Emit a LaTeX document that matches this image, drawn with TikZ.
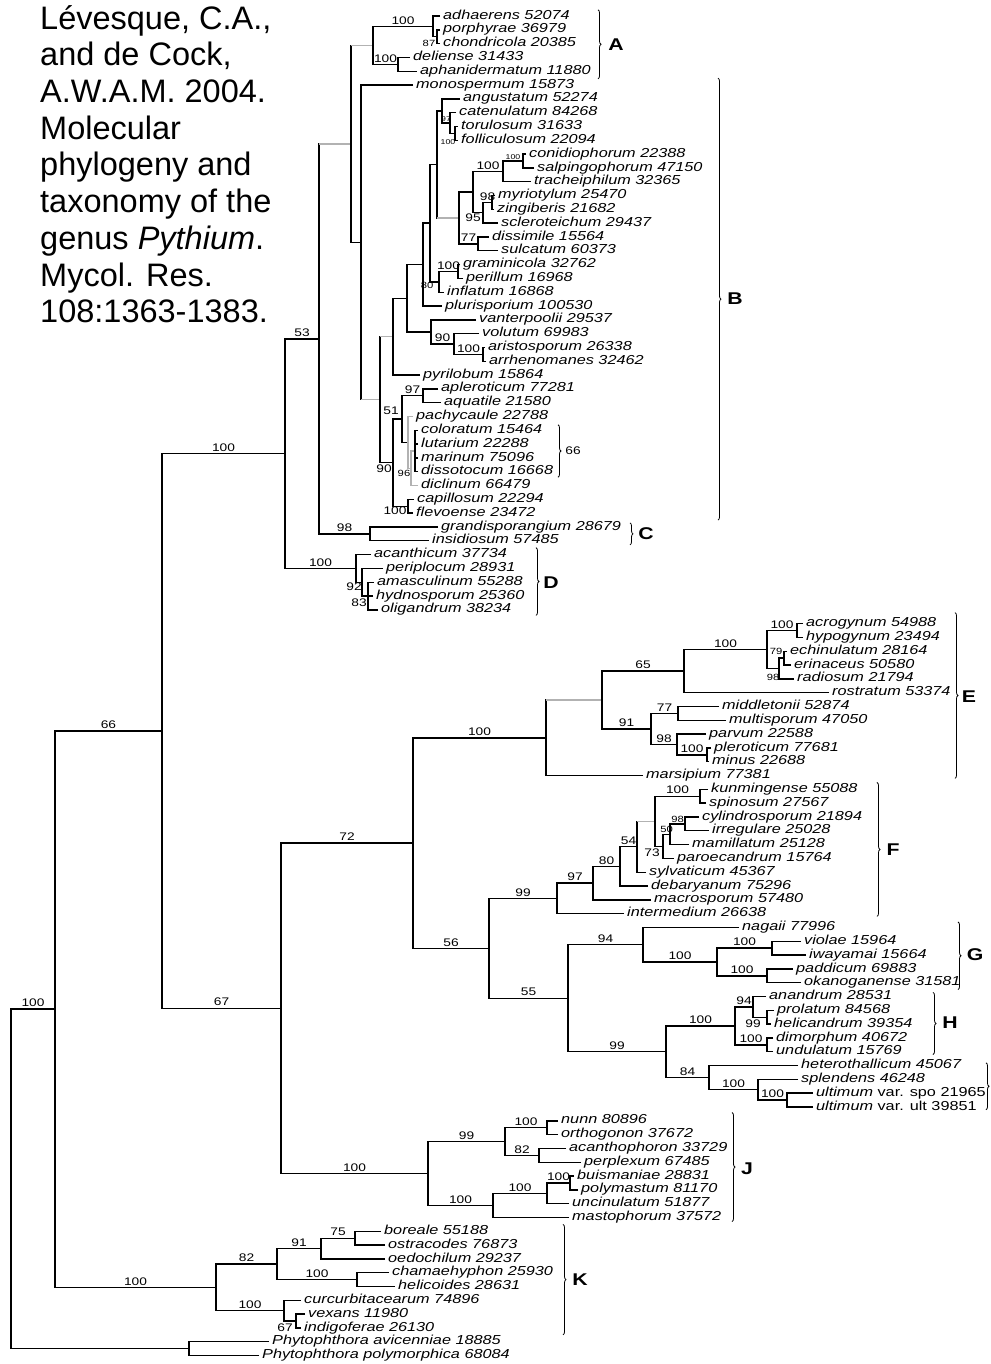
\documentclass[tikz,border=0pt]{standalone}
\usepackage{fontspec}
\setmainfont{Liberation Sans}
\newfontfamily\treefont[FakeStretch=1.25]{Liberation Sans}
\usetikzlibrary{decorations.pathreplacing}

\begin{document}
\begin{tikzpicture}[
  x=1pt, y=-13.81pt,
  br/.style={line width=1.4pt},
  gb/.style={line width=1.4pt,draw=black!30},
  leaf/.style={anchor=west,inner xsep=3pt,inner ysep=0pt,text height=8.8pt,text depth=2.6pt,
               font=\treefont\itshape\fontsize{13}{14}\selectfont},
  bs/.style={inner sep=1.5pt,font=\treefont\fontsize{11}{12}\selectfont},
  bss/.style={inner sep=1pt,font=\treefont\fontsize{9}{10}\selectfont},
  bsss/.style={inner sep=.5pt,font=\treefont\fontsize{7}{8}\selectfont},
  grp/.style={font=\treefont\bfseries\fontsize{17}{20}\selectfont},
  clbrace/.style={decorate,decoration={brace,amplitude=3pt},line width=.8pt},
  cite/.style={anchor=north west,inner sep=0pt,align=left,font=\fontsize{32.5}{36.7}\selectfont},
]
\useasboundingbox (0pt,16pt) rectangle (990pt,-1348pt);
\fill[white] (0pt,16pt) rectangle (990pt,-1348pt);

% Reference
\node[cite] (cite) at (40pt,11pt)
  {L\'evesque, C.A.,\\and de Cock,\\A.W.A.M. 2004.\\Molecular\\phylogeny and\\taxonomy of the\\genus \textit{Pythium}.\\Mycol. Res.\\108:1363-1383.};

% Backbone
\coordinate (nR)    at (11,84.208);
\coordinate (nIn)   at (55,71.916);
\coordinate (n66)   at (162,51.770);
\coordinate (ncore) at (285,31.689);
\coordinate (n67)   at (281,71.850);
\coordinate (n72)   at (413,59.888);
\coordinate (n56)   at (489,67.510);
\coordinate (n53)   at (319,23.379);
\coordinate (nAB)   at (351,9.258);

% Clade A
\coordinate (nA)  at (373,2.125);
\coordinate (nA1) at (433,0.75);
\coordinate (n87) at (437,1.5);
\coordinate (nA2) at (398,3.5);
\node[leaf] (adh) at (440,0) {adhaerens 52074};
\node[leaf] (por) at (440,1) {porphyrae 36979};
\node[leaf] (cho) at (440,2) {chondricola 20385};
\node[leaf] (del) at (410,3) {deliense 31433};
\node[leaf] (aph) at (417,4) {aphanidermatum 11880};

% Clade B
\coordinate (nB)     at (361,16.391);
\coordinate (n380)   at (380,27.781);
\coordinate (n392)   at (393,23.219);
\coordinate (n407)   at (407,20.438);
\coordinate (n423)   at (423,18);
\coordinate (n430)   at (430,15);
\coordinate (n437)   at (437,10.75);
\coordinate (nang)   at (442,6.875);
\coordinate (n97c)   at (450,7.75);
\coordinate (n100t)  at (455,8.5);
\coordinate (nq)     at (459,14.625);
\coordinate (nq1)    at (473,12.75);
\coordinate (n100tr) at (503,11.25);
\coordinate (n100c)  at (523,10.5);
\coordinate (n95)    at (483,14.25);
\coordinate (n98m)   at (492,13.5);
\coordinate (n77d)   at (478,16.5);
\coordinate (n80)    at (439,19.25);
\coordinate (n100g)  at (458,18.5);
\coordinate (n431)   at (431,22.875);
\coordinate (n90v)   at (454,23.75);
\coordinate (n100a)  at (483,24.5);
\coordinate (n90)    at (393,32.344);
\coordinate (n51)    at (402,29.188);
\coordinate (n97a)   at (423,27.5);
\coordinate (npac)   at (408,30.875);
\coordinate (n96)    at (411,32.75);
\coordinate (nc66)   at (415,31.5);
\coordinate (n100cf) at (408,35.5);
\node[leaf] (mon) at (413,5) {monospermum 15873};
\node[leaf] (ang) at (460,6) {angustatum 52274};
\node[leaf] (cat) at (456,7) {catenulatum 84268};
\node[leaf] (tor) at (458,8) {torulosum 31633};
\node[leaf] (fol) at (458,9) {folliculosum 22094};
\node[leaf] (con) at (526,10) {conidiophorum 22388};
\node[leaf] (sal) at (534,11) {salpingophorum 47150};
\node[leaf] (tra) at (531,12) {tracheiphilum 32365};
\node[leaf] (myr) at (495,13) {myriotylum 25470};
\node[leaf] (zin) at (494,14) {zingiberis 21682};
\node[leaf] (scl) at (498,15) {scleroteichum 29437};
\node[leaf] (dis) at (489,16) {dissimile 15564};
\node[leaf] (sul) at (498,17) {sulcatum 60373};
\node[leaf] (gra) at (460,18) {graminicola 32762};
\node[leaf] (per) at (463,19) {perillum 16968};
\node[leaf] (inf) at (444,20) {inflatum 16868};
\node[leaf] (plu) at (442,21) {plurisporium 100530};
\node[leaf] (van) at (476,22) {vanterpoolii 29537};
\node[leaf] (vol) at (479,23) {volutum 69983};
\node[leaf] (ari) at (485,24) {aristosporum 26338};
\node[leaf] (arr) at (486,25) {arrhenomanes 32462};
\node[leaf] (pyr) at (420,26) {pyrilobum 15864};
\node[leaf] (apl) at (438,27) {apleroticum 77281};
\node[leaf] (aqu) at (441,28) {aquatile 21580};
\node[leaf] (pac) at (413,29) {pachycaule 22788};
\node[leaf] (col) at (418,30) {coloratum 15464};
\node[leaf] (lut) at (418,31) {lutarium 22288};
\node[leaf] (mar) at (418,32) {marinum 75096};
\node[leaf] (dso) at (418,33) {dissotocum 16668};
\node[leaf] (dic) at (418,34) {diclinum 66479};
\node[leaf] (cap) at (414,35) {capillosum 22294};
\node[leaf] (fle) at (413,36) {flevoense 23472};

% Clades C and D
\coordinate (nC)  at (370,37.5);
\coordinate (nD)  at (356,40);
\coordinate (n92) at (362,41);
\coordinate (n83) at (368,42);
\node[leaf] (grd) at (438,37) {grandisporangium 28679};
\node[leaf] (ins) at (429,38) {insidiosum 57485};
\node[leaf] (aca) at (371,39) {acanthicum 37734};
\node[leaf] (pep) at (383,40) {periplocum 28931};
\node[leaf] (ama) at (374,41) {amasculinum 55288};
\node[leaf] (hyd) at (373,42) {hydnosporum 25360};
\node[leaf] (oli) at (378,43) {oligandrum 38234};

% Clade E
\coordinate (nE)     at (546,52.266);
\coordinate (n65)    at (602,49.531);
\coordinate (n100e2) at (684,47.438);
\coordinate (n767)   at (767,45.875);
\coordinate (n100h)  at (797,44.5);
\coordinate (n98r)   at (779,47.25);
\coordinate (n79)    at (784,46.5);
\coordinate (n91)    at (651,51.625);
\coordinate (n77m)   at (678,50.5);
\coordinate (n98p)   at (677,52.75);
\coordinate (n100p)  at (707,53.5);
\node[leaf] (acr) at (803,44) {acrogynum 54988};
\node[leaf] (hyp) at (803,45) {hypogynum 23494};
\node[leaf] (ech) at (787,46) {echinulatum 28164};
\node[leaf] (eri) at (791,47) {erinaceus 50580};
\node[leaf] (rad) at (794,48) {radiosum 21794};
\node[leaf] (ros) at (829,49) {rostratum 53374};
\node[leaf] (mid) at (719,50) {middletonii 52874};
\node[leaf] (mul) at (726,51) {multisporum 47050};
\node[leaf] (par) at (706,52) {parvum 22588};
\node[leaf] (ple) at (711,53) {pleroticum 77681};
\node[leaf] (min) at (709,54) {minus 22688};
\node[leaf] (mrs) at (643,55) {marsipium 77381};

% Clade F
\coordinate (nF)    at (557,63.895);
\coordinate (n80f)  at (593,62.789);
\coordinate (n54)   at (620,61.578);
\coordinate (n637)  at (637,60.156);
\coordinate (n655)  at (655,58.313);
\coordinate (n100k) at (700,56.5);
\coordinate (n73)   at (663,60.125);
\coordinate (n50)   at (670,59.25);
\coordinate (n98c)  at (685,58.5);
\node[leaf] (kun) at (708,56) {kunmingense 55088};
\node[leaf] (spi) at (706,57) {spinosum 27567};
\node[leaf] (cyl) at (699,58) {cylindrosporum 21894};
\node[leaf] (irr) at (709,59) {irregulare 25028};
\node[leaf] (mam) at (689,60) {mamillatum 25128};
\node[leaf] (pao) at (674,61) {paroecandrum 15764};
\node[leaf] (syl) at (646,62) {sylvaticum 45367};
\node[leaf] (deb) at (648,63) {debaryanum 75296};
\node[leaf] (mac) at (651,64) {macrosporum 57480};
\node[leaf] (itm) at (624,65) {intermedium 26638};

% Clades G, H
\coordinate (n55)    at (568,71.125);
\coordinate (nG)     at (643,67.25);
\coordinate (n100G)  at (717,68.5);
\coordinate (n100vi) at (772,67.5);
\coordinate (n100pa) at (767,69.5);
\coordinate (n99)    at (666,75);
\coordinate (nH)     at (735,73.125);
\coordinate (n94h)   at (753,71.75);
\coordinate (n99h)   at (767,72.5);
\coordinate (n100dm) at (767,74.5);
\coordinate (n84)    at (709,76.875);
\coordinate (n100s)  at (758,77.75);
\coordinate (n100u)  at (787,78.5);
\node[leaf] (nag) at (739,66) {nagaii 77996};
\node[leaf] (vio) at (801,67) {violae 15964};
\node[leaf] (iwa) at (806,68) {iwayamai 15664};
\node[leaf] (pad) at (793,69) {paddicum 69883};
\node[leaf] (oka) at (801,70) {okanoganense 31581};
\node[leaf] (ana) at (766,71) {anandrum 28531};
\node[leaf] (pro) at (774,72) {prolatum 84568};
\node[leaf] (hel) at (771,73) {helicandrum 39354};
\node[leaf] (dim) at (773,74) {dimorphum 40672};
\node[leaf] (und) at (773,75) {undulatum 15769};
\node[leaf] (het) at (798,76) {heterothallicum 45067};
\node[leaf] (spl) at (798,77) {splendens 46248};
\node[leaf] (ult1) at (813,78) {ultimum \upshape var. spo 21965};
\node[leaf] (ult2) at (813,79) {ultimum \upshape var. ult 39851};

% Clade J
\coordinate (nJ)     at (428,83.813);
\coordinate (n99j)   at (505,81.5);
\coordinate (n100n)  at (547,80.5);
\coordinate (n82j)   at (539,82.5);
\coordinate (n100j2) at (493,86.125);
\coordinate (n100b2) at (547,85.25);
\coordinate (n100bp) at (570,84.5);
\node[leaf] (nun) at (558,80) {nunn 80896};
\node[leaf] (ort) at (558,81) {orthogonon 37672};
\node[leaf] (acp) at (566,82) {acanthophoron 33729};
\node[leaf] (ppx) at (581,83) {perplexum 67485};
\node[leaf] (bui) at (574,84) {buismaniae 28831};
\node[leaf] (pol) at (578,85) {polymastum 81170};
\node[leaf] (unc) at (569,86) {uncinulatum 51877};
\node[leaf] (mas) at (569,87) {mastophorum 37572};

% Clade K and outgroup
\coordinate (nK)     at (216,92.063);
\coordinate (n82k)   at (277,90.375);
\coordinate (n91k)   at (321,89.25);
\coordinate (n75)    at (355,88.5);
\coordinate (n100ch) at (357,91.5);
\coordinate (n100kk) at (284,93.75);
\coordinate (n67k)   at (296,94.5);
\coordinate (nPh)    at (189,96.5);
\node[leaf] (bor) at (381,88) {boreale 55188};
\node[leaf] (ost) at (385,89) {ostracodes 76873};
\node[leaf] (oed) at (385,90) {oedochilum 29237};
\node[leaf] (cha) at (389,91) {chamaehyphon 25930};
\node[leaf] (hcl) at (395,92) {helicoides 28631};
\node[leaf] (cur) at (301,93) {curcurbitacearum 74896};
\node[leaf] (vex) at (305,94) {vexans 11980};
\node[leaf] (ind) at (301,95) {indigoferae 26130};
\node[leaf] (pav) at (269,96) {Phytophthora avicenniae 18885};
\node[leaf] (ppo) at (259,97) {Phytophthora polymorphica 68084};

% Branches: backbone
\draw[br] (nIn) -| (nR) node[bs,pos=.25,above] (b-in) {100} (nPh) -| (nR);
\draw[br] (n66) -| (nIn) node[bs,pos=.25,above] (b-66) {66}
          (nK) -| (nIn) node[bs,pos=.25,above] (b-k) {100};
\draw[br] (ncore) -| (n66) node[bs,pos=.25,above] (b-core) {100}
          (n67) -| (n66) node[bs,pos=.25,above] (b-67) {67};
\draw[br] (n72) -| (n67) node[bs,pos=.25,above] (b-72) {72}
          (nJ) -| (n67) node[bs,pos=.25,above] (b-j) {100};
\draw[br] (nE) -| (n72) node[bs,pos=.25,above] (b-e) {100}
          (n56) -| (n72) node[bs,pos=.25,above] (b-56) {56};
\draw[br] (nF) -| (n56) node[bs,pos=.25,above] (b-f) {99}
          (n55) -| (n56) node[bs,pos=.25,above] (b-55) {55};
\draw[br] (n53) -| (ncore) node[bs,pos=.25,above] (b-53) {53}
          (nD) -| (ncore) node[bs,pos=.25,above] (b-d) {100};
\draw[br] (nAB) -| (n53) (nC) -| (n53) node[bs,pos=.25,above] (b-c) {98};
\draw[gb] (nAB) -- (nAB -| n53);
\draw[br] (nA) -| (nAB) (nB) -| (nAB);
\draw[gb] (nA) -- (nA -| nAB);

% Branches: A
\draw[br] (nA1) -| (nA) node[bs,pos=.25,above] (b-a1) {100}
          (nA2) -| (nA) node[bs,pos=.25,above] (b-a2) {100};
\draw[br] (adh.west) -| (nA1) (n87) -| (nA1);
\draw[br] (por.west) -| (n87) (cho.west) -| (n87);
\draw[br] (del.west) -| (nA2) (aph.west) -| (nA2);
\node[bss] (b-87) at (429,2) {87};

% Branches: B
\draw[br] (mon.west) -| (nB) (n380) -| (nB);
\draw[gb] (n380) -- (n380 -| nB);
\draw[br] (n392) -| (n380) (n90) -| (n380);
\draw[gb] (n392) -- (n392 -| n380);
\draw[br] (n407) -| (n392) (pyr.west) -| (n392);
\draw[br] (n423) -| (n407) (n431) -| (n407);
\draw[br] (n430) -| (n423) (plu.west) -| (n423);
\draw[br] (n437) -| (n430) (n80) -| (n430);
\draw[br] (nang) -| (n437) (nq) -| (n437);
\draw[gb] (nq) -- (nq -| n437);
\draw[br] (ang.west) -| (nang) (n97c) -| (nang) node[bsss,pos=.25,above] (b-97c) {97};
\draw[br] (cat.west) -| (n97c) (n100t) -| (n97c);
\draw[br] (tor.west) -| (n100t) (fol.west) -| (n100t);
\node[bsss] (b-100t) at (448,9.1) {100};
\draw[br] (nq1) -| (nq) (n77d) -| (nq) node[bs,pos=.25,above] (b-77d) {77};
\draw[br] (n100tr) -| (nq1) node[bs,pos=.25,above] (b-100tr) {100} (n95) -| (nq1);
\draw[br] (n100c) -| (n100tr) node[bsss,pos=.25,above] (b-100c) {100} (tra.west) -| (n100tr);
\draw[br] (con.west) -| (n100c) (sal.west) -| (n100c);
\draw[br] (n98m) -| (n95) node[bs,pos=.25,above] (b-98m) {98} (scl.west) -| (n95);
\draw[br] (myr.west) -| (n98m) (zin.west) -| (n98m);
\node[bs] (b-95) at (473,14.6) {95};
\draw[br] (dis.west) -| (n77d) (sul.west) -| (n77d);
\draw[br] (n100g) -| (n80) node[bs,pos=.25,above] (b-100g) {100} (inf.west) -| (n80);
\draw[br] (gra.west) -| (n100g) (per.west) -| (n100g);
\node[bss] (b-80) at (427,19.5) {80};
\draw[br] (van.west) -| (n431) (n90v) -| (n431) node[bs,pos=.25,above] (b-90v) {90};
\draw[br] (vol.west) -| (n90v) (n100a) -| (n90v) node[bs,pos=.25,above] (b-100a) {100};
\draw[br] (ari.west) -| (n100a) (arr.west) -| (n100a);
\draw[br] (n51) -| (n90) (n100cf) -| (n90);
\draw[br] (n97a) -| (n51) node[bs,pos=.25,above] (b-97a) {97} (npac) -| (n51);
\draw[br] (apl.west) -| (n97a) (aqu.west) -| (n97a);
\draw[gb] (pac.west) -| (npac) (n96) -| (npac);
\draw[gb] (nc66) -| (n96) (dic.west) -| (n96);
\draw[br] (col.west) -| (nc66) (lut.west) -| (nc66) (mar.west) -| (nc66) (dso.west) -| (nc66);
\draw[br] (cap.west) -| (n100cf) (fle.west) -| (n100cf);
\node[bs] (b-51) at (391,28.6) {51};
\node[bs] (b-90) at (384,32.8) {90};
\node[bss] (b-96) at (404,33.1) {96};
\node[bs] (b-100cf) at (395,35.8) {100};

% Branches: C, D
\draw[br] (grd.west) -| (nC) (ins.west) -| (nC);
\draw[br] (aca.west) -| (nD) (n92) -| (nD);
\draw[br] (pep.west) -| (n92) (n83) -| (n92);
\draw[br] (ama.west) -| (n83) (hyd.west) -| (n83) (oli.west) -| (n83);
\node[bs] (b-92) at (354,41.3) {92};
\node[bs] (b-83) at (359,42.5) {83};

% Branches: E
\draw[br] (n65) -| (nE) (mrs.west) -| (nE);
\draw[gb] (n65) -- (n65 -| nE);
\draw[br] (n100e2) -| (n65) node[bs,pos=.25,above] (b-65) {65}
          (n91) -| (n65) node[bs,pos=.25,above] (b-91) {91};
\draw[br] (n767) -| (n100e2) node[bs,pos=.25,above] (b-100e2) {100} (ros.west) -| (n100e2);
\draw[br] (n100h) -| (n767) node[bs,pos=.25,above] (b-100h) {100} (n98r) -| (n767);
\draw[br] (acr.west) -| (n100h) (hyp.west) -| (n100h);
\draw[br] (n79) -| (n98r) (rad.west) -| (n98r);
\draw[br] (ech.west) -| (n79) (eri.west) -| (n79);
\node[bss] (b-79) at (776,46.0) {79};
\node[bss] (b-98r) at (773,47.9) {98};
\draw[br] (n77m) -| (n91) node[bs,pos=.25,above] (b-77m) {77}
          (n98p) -| (n91) node[bs,pos=.25,above] (b-98p) {98};
\draw[br] (mid.west) -| (n77m) (mul.west) -| (n77m);
\draw[br] (par.west) -| (n98p) (n100p) -| (n98p) node[bs,pos=.25,above] (b-100p) {100};
\draw[br] (ple.west) -| (n100p) (min.west) -| (n100p);

% Branches: F
\draw[br] (n80f) -| (nF) node[bs,pos=.25,above] (b-97f) {97} (itm.west) -| (nF);
\draw[br] (n54) -| (n80f) node[bs,pos=.25,above] (b-80f) {80} (mac.west) -| (n80f);
\draw[br] (n637) -| (n54) node[bs,pos=.25,above] (b-54) {54} (deb.west) -| (n54);
\draw[br] (n655) -| (n637) (syl.west) -| (n637);
\draw[gb] (n655) -- (n655 -| n637);
\draw[br] (n100k) -| (n655) node[bs,pos=.25,above] (b-100k) {100} (n73) -| (n655);
\draw[br] (kun.west) -| (n100k) (spi.west) -| (n100k);
\draw[br] (n50) -| (n73) node[bss,pos=.25,above] (b-50) {50} (pao.west) -| (n73);
\draw[br] (n98c) -| (n50) node[bss,pos=.25,above] (b-98c) {98} (mam.west) -| (n50);
\draw[br] (cyl.west) -| (n98c) (irr.west) -| (n98c);
\node[bs] (b-73) at (652,60.6) {73};

% Branches: G, H
\draw[br] (nG) -| (n55) node[bs,pos=.25,above] (b-94g) {94}
          (n99) -| (n55) node[bs,pos=.25,above] (b-99) {99};
\draw[br] (nag.west) -| (nG) (n100G) -| (nG) node[bs,pos=.25,above] (b-100G) {100};
\draw[br] (n100vi) -| (n100G) node[bs,pos=.25,above] (b-100vi) {100}
          (n100pa) -| (n100G) node[bs,pos=.25,above] (b-100pa) {100};
\draw[br] (vio.west) -| (n100vi) (iwa.west) -| (n100vi);
\draw[br] (pad.west) -| (n100pa) (oka.west) -| (n100pa);
\draw[br] (nH) -| (n99) node[bs,pos=.25,above] (b-100H) {100}
          (n84) -| (n99) node[bs,pos=.25,above] (b-84) {84};
\draw[br] (n94h) -| (nH) node[bs,pos=.25,above] (b-94h) {94}
          (n100dm) -| (nH) node[bs,pos=.25,above] (b-100dm) {100};
\draw[br] (ana.west) -| (n94h) (n99h) -| (n94h);
\draw[br] (pro.west) -| (n99h) (hel.west) -| (n99h);
\draw[br] (dim.west) -| (n100dm) (und.west) -| (n100dm);
\node[bs] (b-99h) at (753,73.0) {99};
\draw[br] (het.west) -| (n84) (n100s) -| (n84) node[bs,pos=.25,above] (b-100s) {100};
\draw[br] (spl.west) -| (n100s) (n100u) -| (n100s) node[bs,pos=.25,above] (b-100u) {100};
\draw[br] (ult1.west) -| (n100u) (ult2.west) -| (n100u);

% Branches: J
\draw[br] (n99j) -| (nJ) node[bs,pos=.25,above] (b-99j) {99}
          (n100j2) -| (nJ) node[bs,pos=.25,above] (b-100j2) {100};
\draw[br] (n100n) -| (n99j) node[bs,pos=.25,above] (b-100n) {100}
          (n82j) -| (n99j) node[bs,pos=.25,above] (b-82j) {82};
\draw[br] (nun.west) -| (n100n) (ort.west) -| (n100n);
\draw[br] (acp.west) -| (n82j) (ppx.west) -| (n82j);
\draw[br] (n100b2) -| (n100j2) node[bs,pos=.25,above] (b-100b2) {100} (mas.west) -| (n100j2);
\draw[br] (n100bp) -| (n100b2) node[bs,pos=.25,above] (b-100bp) {100} (unc.west) -| (n100b2);
\draw[br] (bui.west) -| (n100bp) (pol.west) -| (n100bp);

% Branches: K, outgroup
\draw[br] (n82k) -| (nK) node[bs,pos=.25,above] (b-82k) {82}
          (n100kk) -| (nK) node[bs,pos=.25,above] (b-100kk) {100};
\draw[br] (n91k) -| (n82k) node[bs,pos=.25,above] (b-91k) {91}
          (n100ch) -| (n82k) node[bs,pos=.25,above] (b-100ch) {100};
\draw[br] (n75) -| (n91k) node[bs,pos=.25,above] (b-75) {75} (oed.west) -| (n91k);
\draw[br] (bor.west) -| (n75) (ost.west) -| (n75);
\draw[br] (cha.west) -| (n100ch) (hcl.west) -| (n100ch);
\draw[br] (cur.west) -| (n100kk) (n67k) -| (n100kk);
\draw[br] (vex.west) -| (n67k) (ind.west) -| (n67k);
\node[bs] (b-67k) at (285,95.0) {67};
\draw[br] (pav.west) -| (nPh) (ppo.west) -| (nPh);

% Clade brackets
\draw[clbrace] (598,-0.45) -- (598,4.55);
\node[grp] (gA) at (616,2.1) {A};
\draw[clbrace] (718,4.5) -- (718,36.5);
\node[grp] (gB) at (735,20.5) {B};
\draw[clbrace] (558,29.6) -- (558,33.4);
\node[bs] (g66) at (573,31.5) {66};
\draw[clbrace] (630,36.7) -- (630,38.3);
\node[grp] (gC) at (646,37.5) {C};
\draw[clbrace] (536,38.5) -- (536,43.4);
\node[grp] (gD) at (551,41) {D};
\draw[clbrace] (955,43.2) -- (955,55.2);
\node[grp] (gE) at (969,49.3) {E};
\draw[clbrace] (877,55.5) -- (877,65.2);
\node[grp] (gF) at (893,60.4) {F};
\draw[clbrace] (958,65.6) -- (958,70.5);
\node[grp] (gG) at (975,68) {G};
\draw[clbrace] (933,70.7) -- (933,75.2);
\node[grp] (gH) at (950,72.9) {H};
\draw[clbrace] (986,75.8) -- (986,79.2);
\draw[clbrace] (732,79.4) -- (732,87.3);
\node[grp] (gJ) at (747,83.5) {J};
\draw[clbrace] (563,87.5) -- (563,95.5);
\node[grp] (gK) at (580,91.5) {K};
\end{tikzpicture}
\end{document}
